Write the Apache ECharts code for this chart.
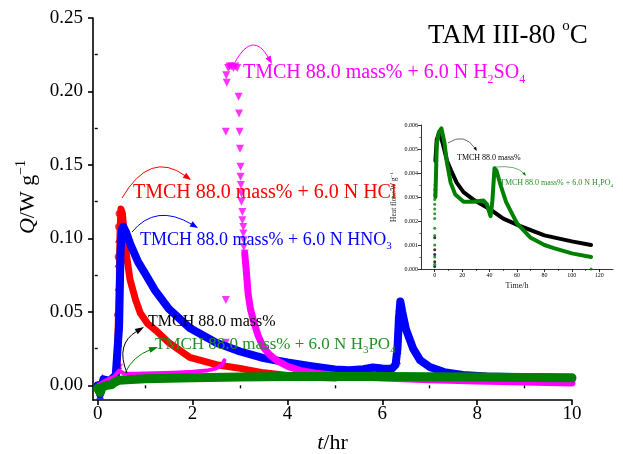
<!DOCTYPE html>
<html><head><meta charset="utf-8">
<script src="https://cdn.jsdelivr.net/npm/echarts@6/dist/echarts.min.js"></script>
<style>html,body{margin:0;padding:0;background:#fff}#c{width:623px;height:454px}</style>
</head><body><div id="c"></div>
<script>
// ---- tick values ----
const xTicks = [0, 2, 4, 6, 8, 10];
const xMinorTicks = [1, 3, 5, 7, 9];
const yTicks = [0, 0.05, 0.10, 0.15, 0.20, 0.25];
const yMinorTicks = [0.025, 0.075, 0.125, 0.175, 0.225];
const insetXTicks = [0, 20, 40, 60, 80, 100, 120];
const insetXMinorTicks = [10, 30, 50, 70, 90, 110];

// ---- main chart data: [t/hr, Q/W g-1] ----
const pureLine = [[0,0],[0.3,0.002],[0.5,0.004],[1,0.005],[3,0.006],[5,0.0065],[8,0.0066],[10,0.0064]];
const hclLine = [[0,0],[0.15,0.002],[0.3,0.004],[0.4,0.008],[0.45,0.06],[0.47,0.105],[0.49,0.12],[0.52,0.117],[0.56,0.102],[0.6,0.09],[0.68,0.072],[0.8,0.058],[0.9,0.049],[1.05,0.042],[1.24,0.037],[1.5,0.029],[1.94,0.019],[2.5,0.014],[3.0,0.0115],[3.5,0.0085],[4.05,0.0065],[4.5,0.0055],[5.0,0.005],[5.3,0.0065],[5.6,0.009],[5.9,0.0075],[6.3,0.0055],[7,0.0048],[8,0.0045],[9,0.0043],[10,0.0042]];
const hclPts = [[0.35,0.004],[0.42,0.02],[0.42,0.029],[0.42,0.048],[0.43,0.0875],[0.44,0.108],[0.45,0.117]];
const hno3Line = [[0,0],[0.05,-0.006],[0.12,0.004],[0.25,0.003],[0.38,0.007],[0.45,0.04],[0.48,0.09],[0.51,0.106],[0.54,0.108],[0.6,0.104],[0.7,0.095],[0.85,0.084],[1.0,0.076],[1.2,0.065],[1.5,0.052],[1.94,0.039],[2.5,0.029],[3.0,0.023],[3.5,0.0185],[4.0,0.0155],[4.5,0.013],[5.0,0.0108],[5.3,0.0102],[5.6,0.011],[5.8,0.0122],[6.0,0.0115],[6.2,0.0112],[6.28,0.014],[6.32,0.025],[6.35,0.045],[6.38,0.057],[6.42,0.05],[6.5,0.038],[6.65,0.025],[6.8,0.017],[7.0,0.0125],[7.3,0.009],[7.7,0.007],[8.2,0.006],[9,0.0055],[10,0.005]];
const hno3Pts = [[0.05,-0.007],[0.1,0.005],[0.43,0.0136],[0.43,0.029],[0.43,0.05],[0.44,0.067],[0.44,0.083],[0.45,0.1],[6.31,0.017],[6.32,0.024],[6.33,0.0375],[6.35,0.049],[6.36,0.053]];
const h2so4Base = [[0,0],[0.15,0.003],[0.35,0.006],[0.45,0.01],[0.55,0.008],[0.8,0.0078],[1.2,0.0082],[1.6,0.0086],[2.0,0.0092],[2.3,0.010],[2.5,0.0115],[2.62,0.014],[2.67,0.017]];
const h2so4Tail = [[3.1,0.0897],[3.14,0.075],[3.17,0.0625],[3.22,0.052],[3.28,0.0443],[3.38,0.034],[3.49,0.026],[3.62,0.021],[3.77,0.017],[4.0,0.013],[4.26,0.0102],[4.6,0.0082],[5,0.0068],[5.5,0.0058],[6,0.005],[7,0.0038],[8,0.0029],[9,0.0022],[10,0.0016]];
const h2so4Pts = [[0.45,0.012],[2.7,0.029],[2.7,0.058],[2.7,0.1725],[2.71,0.211],[2.72,0.206],[2.75,0.216],[2.78,0.217],[2.82,0.217],[2.86,0.216],[2.9,0.217],[2.94,0.216],[2.97,0.1964],[2.98,0.185],[2.99,0.1726],[3.0,0.161],[3.01,0.1487],[3.01,0.1419],[3.02,0.1363],[3.03,0.1306],[3.03,0.125],[3.05,0.118],[3.05,0.1124],[3.07,0.1078],[3.07,0.1033],[3.08,0.0988],[3.08,0.0942],[3.1,0.0897]];
const h3po4Line = [[0,-0.002],[0.05,-0.005],[0.1,-0.001],[0.2,0.0],[0.3,0.0005],[0.35,0.002],[0.45,0.0035],[0.7,0.004],[1,0.0045],[2,0.0052],[3,0.0057],[4,0.006],[5,0.006],[6,0.006],[7,0.0058],[8,0.0056],[9,0.0053],[10,0.0051]];

// ---- inset data: [Time/h, heat flow W g-1] ----
const insetPureLine = [[0.5,0.0045],[1.5,0.0054],[3.5,0.0057],[6,0.0052],[9,0.0045],[12,0.0041],[16,0.0036],[21,0.0032],[28,0.0029],[40,0.0025],[50,0.0021],[62,0.0018],[80,0.0014],[100,0.00115],[114,0.001]];
const insetPurePts = [[0,0.0001],[0,0.0003],[0,0.0006],[0,0.0008],[0,0.0013],[0.3,0.0035]];
const insetH3po4Line = [[0.5,0.003],[1.5,0.0052],[3,0.0057],[4.9,0.00586],[7,0.0053],[9,0.0044],[11.6,0.0036],[15,0.0031],[21,0.0028],[28,0.0028],[35.6,0.00285],[38,0.0027],[40.7,0.0022],[42,0.0028],[43.6,0.0042],[45,0.0041],[48,0.0035],[52,0.0028],[60,0.0019],[70,0.0013],[80,0.001],[86.8,0.00087],[100,0.00065],[114,0.0005]];
const insetH3po4Pts = [[0,0.0002],[0,0.0005],[0,0.001],[0,0.0014],[0,0.0017],[0,0.0021],[0,0.0023],[0,0.0025],[0,0.0027],[0,0.0029],[0,0.0031],[0,0.0033],[114,0.0]];

const FONT = "'Liberation Serif','DejaVu Serif',serif";
const RED = '#ff0000', BLUE = '#0000ff', MAG = '#ff00ff', GRN = '#008000', BLK = '#000000';
const GRNTXT = '#229022';

const measureCtx = document.createElement('canvas').getContext('2d');
function textWidth(t, fs) { measureCtx.font = fs + 'px ' + FONT; return measureCtx.measureText(t).width; }

function arrow(p0, cp, p1, color, lw, L, W) {
  const dx = p1[0]-cp[0], dy = p1[1]-cp[1];
  const len = Math.hypot(dx, dy), ux = dx/len, uy = dy/len, nx = -uy, ny = ux;
  const bx = p1[0]-ux*L, by = p1[1]-uy*L;
  return [
    {type:'bezierCurve', z:100, shape:{x1:p0[0],y1:p0[1],cpx1:cp[0],cpy1:cp[1],x2:bx+ux*1,y2:by+uy*1}, style:{stroke:color, lineWidth:lw, fill:null}},
    {type:'polygon', z:100, shape:{points:[p1,[bx+nx*W/2,by+ny*W/2],[bx-nx*W/2,by-ny*W/2]]}, style:{fill:color}}
  ];
}
// segs: list of [text, kind] with kind 'n' normal, 'sub' subscript, 'sup' superscript
function label(x, yc, segs, color, fs, subFs) {
  const els = [];
  let cx = x;
  segs.forEach(([t, kind]) => {
    const size = kind === 'n' ? fs : subFs;
    const dy = kind === 'sub' ? fs * 0.32 : kind === 'sup' ? -fs * 0.38 : 0;
    els.push({type:'text', z:110, x:cx, y:yc + dy, style:{text:t, fontSize:size, fontFamily:FONT, fill:color, align:'left', verticalAlign:'middle'}});
    cx += textWidth(t, size);
  });
  return els;
}

const graphics = [].concat(
  label(428, 36, [['TAM III-80 ','n'],['o','sup'],['C','n']], BLK, 27, 15),
  label(243, 73, [['TMCH 88.0 mass% + 6.0 N H','n'],['2','sub'],['SO','n'],['4','sub']], MAG, 20, 12),
  label(133, 193, [['TMCH 88.0 mass% + 6.0 N HCl','n']], RED, 20, 12),
  label(140, 240, [['TMCH 88.0 mass% + 6.0 N HNO','n'],['3','sub']], BLUE, 18, 11),
  label(148, 322, [['TMCH 88.0 mass%','n']], BLK, 16, 10),
  label(155, 345, [['TMCH 88.0 mass% + 6.0 N H','n'],['3','sub'],['PO','n'],['4','sub']], GRNTXT, 17, 11),
  label(457, 158, [['TMCH 88.0 mass%','n']], BLK, 8, 5),
  label(500, 183, [['TMCH 88.0 mass% + 6.0 N H','n'],['3','sub'],['PO','n'],['4','sub']], GRNTXT, 8, 5),
  arrow([235,62],[253,30],[272,64], MAG, 1, 8, 6),
  arrow([122,198],[150,150],[191,180], RED, 1, 8, 6),
  arrow([132,232],[156,203],[198,228], BLUE, 1, 8, 6),
  arrow([127,373],[115,344],[144,327], BLK, 1, 9, 6),
  arrow([125,373],[133,356],[158,347], GRN, 1, 9, 6),
  arrow([448,143],[464,132],[477,151], BLK, 0.6, 4, 3),
  arrow([495,167],[517,165],[526,176], GRN, 0.6, 4, 3)
);

const mainAxisLine = {show:true, onZero:false, lineStyle:{color:'#000', width:1.6}};
const option = {
  animation:false,
  backgroundColor:'#fff',
  grid:[
    {left:93, right:51, top:18, bottom:54, containLabel:false, outerBoundsMode:'none'},
    {left:421, right:10, top:125, bottom:185, containLabel:false, outerBoundsMode:'none'}
  ],
  xAxis:[
    {gridIndex:0, type:'value', min:-0.1, max:10, position:'bottom',
     axisLine:mainAxisLine, splitLine:{show:false},
     axisTick:{show:true, customValues:xTicks, length:5, lineStyle:{color:'#000', width:1.6}},
     axisLabel:{customValues:xTicks, margin:5, fontSize:19, fontFamily:FONT, color:'#000', formatter:v=>String(v)},
     name:'{t|t}{n|/hr}', nameLocation:'middle', nameGap:32,
     nameTextStyle:{rich:{t:{fontSize:22, fontStyle:'italic', fontFamily:FONT, color:'#000'}, n:{fontSize:22, fontFamily:FONT, color:'#000'}}}},
    {gridIndex:0, type:'value', min:-0.1, max:10, position:'bottom',
     axisLine:{show:false}, splitLine:{show:false}, axisLabel:{show:false},
     axisTick:{show:true, customValues:xMinorTicks, length:3, lineStyle:{color:'#000', width:1.4}}},
    {gridIndex:1, type:'value', min:-10, max:130, position:'bottom',
     axisLine:{show:true, onZero:false, lineStyle:{color:'#000', width:0.8}}, splitLine:{show:false},
     axisTick:{show:true, customValues:insetXTicks, length:3, lineStyle:{color:'#000', width:0.8}},
     axisLabel:{customValues:insetXTicks, margin:3, fontSize:6, fontFamily:FONT, color:'#000'},
     name:'Time/h', nameLocation:'middle', nameGap:13, nameTextStyle:{fontSize:8, fontFamily:FONT, color:'#222'}},
    {gridIndex:1, type:'value', min:-10, max:130, position:'bottom',
     axisLine:{show:false}, splitLine:{show:false}, axisLabel:{show:false},
     axisTick:{show:true, customValues:insetXMinorTicks, length:2, lineStyle:{color:'#000', width:0.6}}}
  ],
  yAxis:[
    {gridIndex:0, type:'value', min:-0.01, max:0.25, position:'left',
     axisLine:mainAxisLine, splitLine:{show:false},
     axisTick:{show:true, customValues:yTicks, length:5, lineStyle:{color:'#000', width:1.6}},
     axisLabel:{customValues:yTicks, margin:10, fontSize:19, fontFamily:FONT, color:'#000', formatter:v=>v.toFixed(2)},
     name:'{q|Q}{n|/W g}{s|\u22121}', nameLocation:'middle', nameGap:46,
     nameTextStyle:{padding:[0,0,0,24], rich:{q:{fontSize:22, fontStyle:'italic', fontFamily:FONT, color:'#000', lineHeight:28},
       n:{fontSize:22, fontFamily:FONT, color:'#000', lineHeight:28},
       s:{fontSize:14, fontFamily:FONT, color:'#000', lineHeight:14, verticalAlign:'top'}}}},
    {gridIndex:0, type:'value', min:-0.01, max:0.25, position:'left',
     axisLine:{show:false}, splitLine:{show:false}, axisLabel:{show:false},
     axisTick:{show:true, customValues:yMinorTicks, length:3, lineStyle:{color:'#000', width:1.4}}},
    {gridIndex:1, type:'value', min:0, max:0.006, interval:0.001, position:'left',
     axisLine:{show:true, onZero:false, lineStyle:{color:'#000', width:0.8}}, splitLine:{show:false},
     axisTick:{show:true, length:3, lineStyle:{color:'#000', width:0.8}},
     minorTick:{show:true, splitNumber:2, length:1.5, lineStyle:{color:'#000', width:0.6}},
     axisLabel:{margin:3, fontSize:6, fontFamily:FONT, color:'#000', formatter:v=>v.toFixed(3)},
     name:'{a|Heat flow/W g}{s|\u22121}', nameLocation:'middle', nameGap:22,
     nameTextStyle:{rich:{a:{fontSize:7.5, fontFamily:FONT, color:'#222', lineHeight:10}, s:{fontSize:5, fontFamily:FONT, color:'#222', lineHeight:5, verticalAlign:'top'}}}}
  ],
  series:[
    {type:'line', name:'TMCH 88.0 mass%', xAxisIndex:0, yAxisIndex:0, data:pureLine, showSymbol:false, lineStyle:{color:BLK, width:3}},
    {type:'line', name:'HCl', xAxisIndex:0, yAxisIndex:0, data:hclLine, showSymbol:false, lineStyle:{color:RED, width:7, cap:'round', join:'round'}},
    {type:'line', name:'HNO3', xAxisIndex:0, yAxisIndex:0, data:hno3Line, showSymbol:false, lineStyle:{color:BLUE, width:8, cap:'round', join:'round'}},
    {type:'line', name:'H2SO4 base', xAxisIndex:0, yAxisIndex:0, data:h2so4Base, showSymbol:false, lineStyle:{color:MAG, width:4, cap:'round', join:'round'}},
    {type:'line', name:'H2SO4 tail', xAxisIndex:0, yAxisIndex:0, data:h2so4Tail, showSymbol:false, lineStyle:{color:MAG, width:7, cap:'round', join:'round'}},
    {type:'scatter', xAxisIndex:0, yAxisIndex:0, data:hclPts, symbol:'circle', symbolSize:7, itemStyle:{color:RED}},
    {type:'scatter', xAxisIndex:0, yAxisIndex:0, data:hno3Pts, symbol:'triangle', symbolSize:8, itemStyle:{color:BLUE}},
    {type:'scatter', xAxisIndex:0, yAxisIndex:0, data:h2so4Pts, symbol:'triangle', symbolRotate:180, symbolSize:8, itemStyle:{color:MAG}},
    {type:'line', name:'H3PO4', xAxisIndex:0, yAxisIndex:0, data:h3po4Line, showSymbol:false, lineStyle:{color:GRN, width:9, cap:'round', join:'round'}},
    {type:'line', xAxisIndex:2, yAxisIndex:2, data:insetPureLine, showSymbol:false, lineStyle:{color:BLK, width:4, cap:'round', join:'round'}},
    {type:'scatter', xAxisIndex:2, yAxisIndex:2, data:insetPurePts, symbolSize:3, itemStyle:{color:BLK}},
    {type:'line', xAxisIndex:2, yAxisIndex:2, data:insetH3po4Line, showSymbol:false, lineStyle:{color:GRN, width:4, cap:'round', join:'round'}},
    {type:'scatter', xAxisIndex:2, yAxisIndex:2, data:insetH3po4Pts, symbolSize:3, itemStyle:{color:GRN}}
  ],
  graphic:graphics
};
const chart = echarts.init(document.getElementById('c'), null, {renderer:'canvas'});
chart.setOption(option);
</script>
</body></html>
